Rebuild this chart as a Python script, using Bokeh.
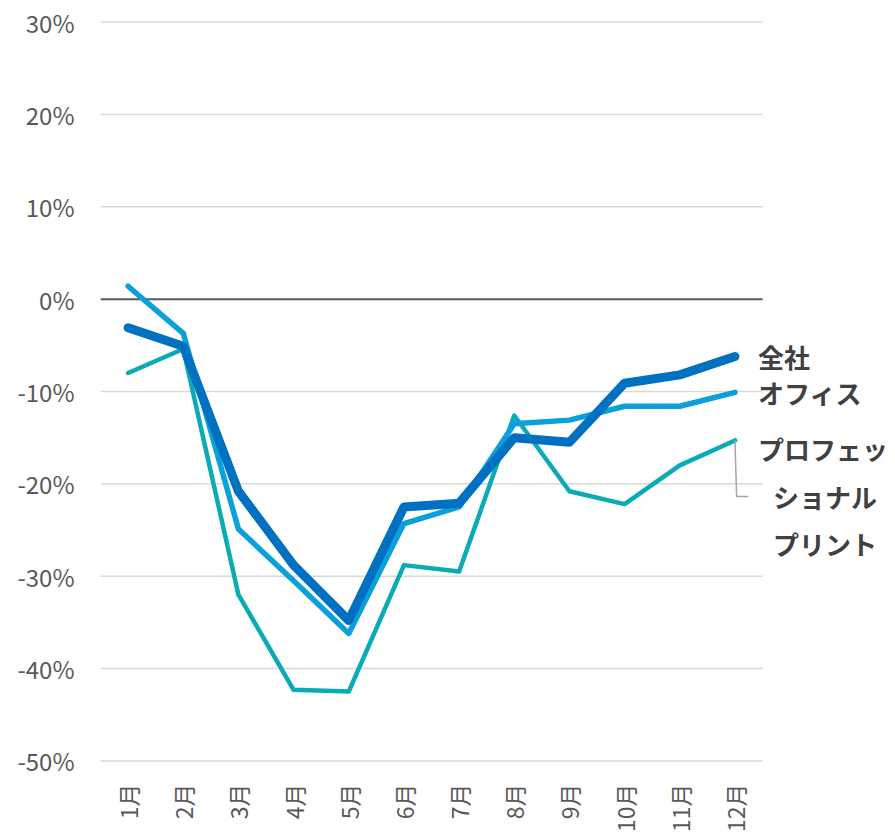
from bokeh.plotting import figure
from bokeh.models import Range1d, FixedTicker, Label
from bokeh.embed import file_html
from bokeh.resources import INLINE

months = ["1月", "2月", "3月", "4月", "5月", "6月", "7月", "8月", "9月", "10月", "11月", "12月"]
zensha = [-0.031, -0.051, -0.208, -0.288, -0.348, -0.225, -0.221, -0.150, -0.155, -0.091, -0.082, -0.062]
office = [0.014, -0.037, -0.249, -0.305, -0.362, -0.243, -0.225, -0.135, -0.131, -0.116, -0.116, -0.101]
profprint = [-0.080, -0.054, -0.320, -0.423, -0.425, -0.288, -0.295, -0.126, -0.208, -0.222, -0.180, -0.153]
y_ticks = [-0.5, -0.4, -0.3, -0.2, -0.1, 0.0, 0.1, 0.2, 0.3]
y_tick_labels = ["-50%", "-40%", "-30%", "-20%", "-10%", "0%", "10%", "20%", "30%"]
series_names = ["全社", "オフィス", "プロフェッ\nショナル\nプリント"]

FONT = "Noto Sans CJK JP"
idx = list(range(len(months)))
x_lo, x_hi = -0.5, len(months) - 0.5

p = figure(width=895, height=838, output_backend="svg", toolbar_location=None,
           x_range=Range1d(x_lo, 13.91), y_range=Range1d(-0.505, 0.305))
p.min_border_left = 100
p.min_border_right = 0
p.min_border_top = 17
p.min_border_bottom = 73
p.outline_line_color = None
p.background_fill_color = "white"
p.border_fill_color = "white"

p.xgrid.grid_line_color = None
p.ygrid.grid_line_color = None
p.xaxis.ticker = FixedTicker(ticks=idx)
p.xaxis.major_label_overrides = {i: m for i, m in zip(idx, months)}
p.yaxis.ticker = FixedTicker(ticks=y_ticks)
p.yaxis.major_label_overrides = {t: l for t, l in zip(y_ticks, y_tick_labels)}

for ax in (p.xaxis[0], p.yaxis[0]):
    ax.axis_line_color = None
    ax.major_tick_line_color = None
    ax.minor_tick_line_color = None
    ax.major_tick_in = 0
    ax.major_tick_out = 0
    ax.major_label_text_color = "#595959"
    ax.major_label_text_font = FONT

p.yaxis.major_label_text_font_size = "24px"
p.yaxis.major_label_standoff = 26
p.xaxis.major_label_text_font_size = "23px"
p.xaxis.major_label_orientation = 3.14159265 / 2
p.xaxis.major_label_standoff = 18

# horizontal gridlines limited to the category span
grid_y = [t for t in y_ticks if t != 0.0]
p.segment(x0=[x_lo] * len(grid_y), x1=[x_hi] * len(grid_y), y0=grid_y, y1=grid_y,
          line_color="#d9d9d9", line_width=1.5)
p.segment(x0=[x_lo], x1=[x_hi], y0=[0.0], y1=[0.0], line_color="#595959", line_width=2)

p.line(idx, profprint, line_color="#0aabb6", line_width=4.5, line_cap="round", line_join="round")
p.line(idx, office, line_color="#0aa0dc", line_width=5.5, line_cap="round", line_join="round")
p.line(idx, zensha, line_color="#0070c0", line_width=9, line_cap="round", line_join="round")

# leader line for the third label
xl = idx[-1]
px_per_unit = 923.75
y_bend = profprint[-1] - 56 / px_per_unit
p.line([xl, xl + 0.03, xl + 0.24], [profprint[-1], y_bend, y_bend],
       line_color="#a6a6a6", line_width=1.5)

lab_kw = dict(text_font=FONT, text_font_size="26px", text_font_style="bold",
              text_color="#404040", text_baseline="middle", text_align="left")
p.add_layout(Label(x=xl, y=zensha[-1], x_offset=23, y_offset=0, text=series_names[0], **lab_kw))
p.add_layout(Label(x=xl, y=office[-1], x_offset=23, y_offset=0, text=series_names[1], **lab_kw))
lines = series_names[2].split("\n")
p.add_layout(Label(x=xl, y=profprint[-1], x_offset=23, y_offset=-8, text=lines[0], **lab_kw))
p.add_layout(Label(x=xl, y=profprint[-1], x_offset=38, y_offset=-56, text=lines[1], **lab_kw))
p.add_layout(Label(x=xl, y=profprint[-1], x_offset=38, y_offset=-103, text=lines[2], **lab_kw))

open("out.html", "w").write(file_html(p, INLINE))
